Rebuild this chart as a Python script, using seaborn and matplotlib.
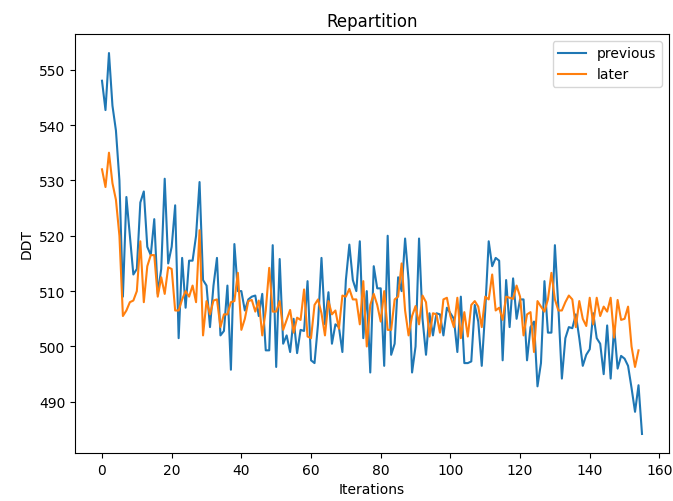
import numpy as np
import pandas as pd
import matplotlib
matplotlib.use("Agg")
import matplotlib.pyplot as plt
import seaborn as sns

previous = [
    548, 542.7, 553, 543.5, 539, 530, 509, 527, 520, 513,
    514, 526, 528, 518, 516.5, 523, 509.5, 514, 530.3, 515,
    518, 525.5, 501.5, 516, 507, 515.5, 515.5, 520, 529.7, 512,
    511, 503.5, 511, 516, 502, 502.8, 511, 495.8, 518.5, 510,
    510, 506.5, 508.5, 509, 509.2, 505.5, 509.5, 499.3, 499.3, 518.3,
    496.3, 515.8, 500.5, 502, 499, 505, 498.8, 503, 502.8, 511.8,
    497.5, 497, 504, 516, 504, 509.8, 500.5, 504, 503.5, 499,
    512, 518.4, 512, 510, 519, 501.5, 510, 495.3, 514.5, 510.5,
    510.5, 496.5, 520, 498.5, 500.5, 512.5, 510, 519.5, 512, 495.3,
    500, 519.5, 505, 498.5, 506, 502, 506, 505.8, 502, 507,
    506, 505, 499, 509, 497, 497, 497.3, 507.5, 504.5, 496.5,
    506.5, 519, 514.5, 516, 515.5, 497.5, 512, 503.5, 512.3, 505,
    508.5, 508.5, 497.5, 503.5, 504.5, 492.8, 497, 511.8, 502.5, 502.5,
    518.3, 507, 494.2, 501.5, 503.5, 503.3, 505.8, 501.5, 496.5, 498.5,
    499.5, 506, 501.5, 500.5, 495, 503.8, 494.2, 503.5, 496, 498.3,
    497.8, 496.5, 492.5, 488.2, 493, 484.2,
]

later = [
    532, 528.8, 535, 529.5, 526.5, 520, 505.5, 506.5, 508, 508.3,
    510, 519, 508, 514.5, 516.5, 516.5, 509, 512.5, 509.5, 514.3,
    514, 506.5, 506.5, 508.5, 510, 509, 511, 508, 521, 502,
    508.2, 505.8, 508.3, 508.5, 503.5, 505.8, 505.8, 508, 508.2, 513.3,
    503, 505, 508.2, 508.4, 506.3, 508.3, 502, 506.5, 514.2, 506.3,
    506.3, 508.2, 503, 504.8, 506.6, 502.5, 505.2, 504.8, 510.3, 501.8,
    501.5, 507.5, 508.5, 506, 502, 508.2, 505.8, 506.5, 503.2, 509.2,
    509, 510.4, 508.5, 508.5, 504, 511.8, 500, 507.5, 509.5, 507.5,
    504.5, 510, 503, 503, 508.5, 509, 515, 506.5, 502, 505.5,
    507.3, 504, 509.2, 508, 501.8, 506, 505.8, 502.5, 508.5, 508.8,
    505.5, 503.5, 508.8, 501.5, 506.2, 501.8, 507.5, 508.2, 507.2, 503.5,
    509, 508.5, 513, 506.5, 507, 504.8, 509, 508.8, 508.6, 511,
    509, 502, 505.8, 506.2, 499, 508.2, 507.2, 506.3, 508.5, 513.3,
    508.5, 506.5, 506.5, 508, 509.2, 508.5, 503.5, 508.2, 505, 503.7,
    508.8, 504, 508.8, 505.5, 507.2, 506.3, 508.8, 501.6, 508.4, 504.8,
    505, 507.2, 500, 496.3, 499.3,
]

fig, ax = plt.subplots(figsize=(6.73, 5.02), dpi=100)
fig.subplots_adjust(left=75 / 673, right=669 / 673, top=1 - 35 / 502, bottom=1 - 454 / 502)

sns.lineplot(x=np.arange(len(previous)), y=previous, ax=ax, label="previous", color="#1f77b4")
sns.lineplot(x=np.arange(len(later)), y=later, ax=ax, label="later", color="#ff7f0e")

ax.set_title("Repartition")
ax.set_xlabel("Iterations")
ax.set_ylabel("DDT")
ax.legend(loc="upper right")

fig.savefig("out.png", dpi=100)
